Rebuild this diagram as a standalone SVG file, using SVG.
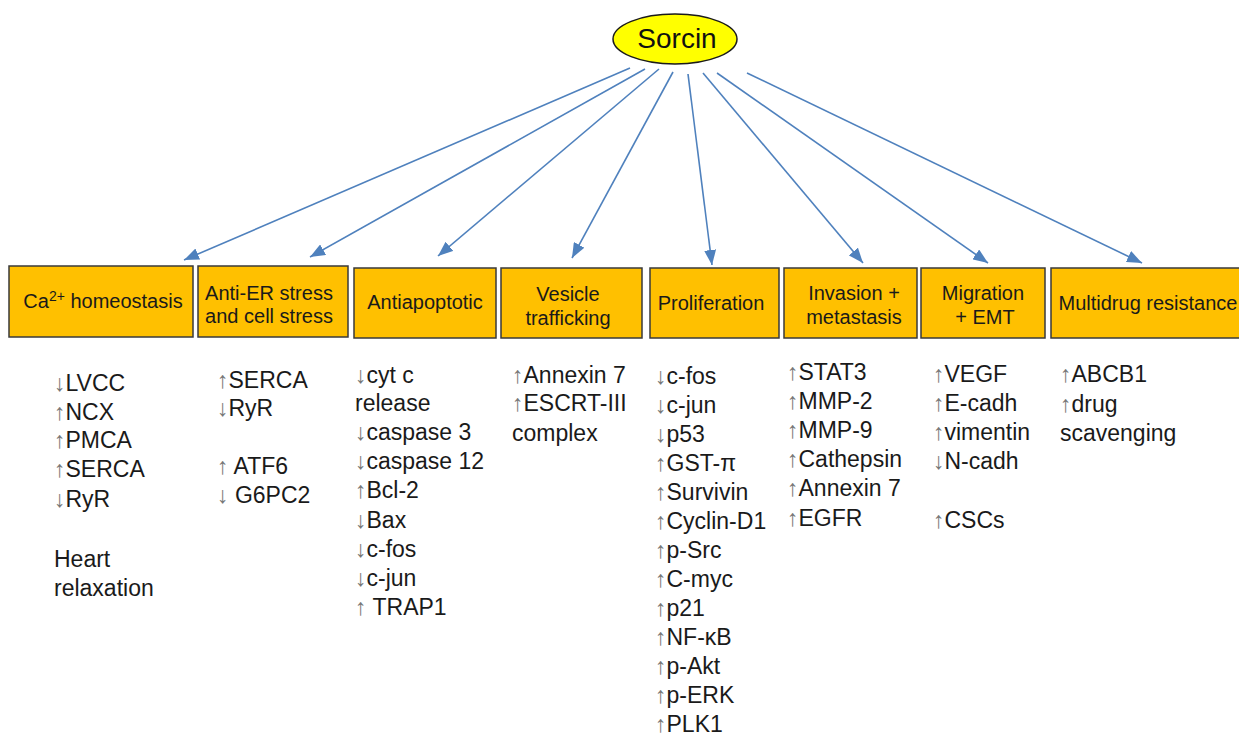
<svg xmlns="http://www.w3.org/2000/svg" width="1239" height="740" viewBox="0 0 1239 740">
<style>
.box{fill:#FFC000;stroke:#3a3a3a;stroke-width:1.5}
.bt{font-family:"Liberation Sans",Arial,sans-serif;font-size:20px;fill:#1a1a1a;text-anchor:middle}
.ct{font-family:"Liberation Sans",Arial,sans-serif;font-size:23px;fill:#1a1a1a}
.ar{fill:#777777}
.con{stroke:#4F81BD;stroke-width:1.6;fill:none;marker-end:url(#ah)}
</style>
<defs>
<marker id="ah" markerUnits="userSpaceOnUse" markerWidth="16" markerHeight="12" refX="15" refY="6" orient="auto">
<path d="M0,0 L15,6 L0,12 z" fill="#4F81BD"/>
</marker>
</defs>
<rect width="1239" height="740" fill="#ffffff"/>
<g id="connectors">
<line class="con" x1="630" y1="68" x2="184" y2="260"/>
<line class="con" x1="645" y1="69" x2="310" y2="257"/>
<line class="con" x1="659" y1="69" x2="438" y2="256"/>
<line class="con" x1="673" y1="72" x2="572" y2="258"/>
<line class="con" x1="688" y1="74" x2="712" y2="265"/>
<line class="con" x1="703" y1="73" x2="863" y2="263"/>
<line class="con" x1="717" y1="73" x2="988" y2="263"/>
<line class="con" x1="747" y1="73" x2="1142" y2="263"/>
</g>
<g id="sorcin">
<ellipse cx="675" cy="39" rx="62" ry="25" fill="#FFFF00" stroke="#1a1a1a" stroke-width="1.5"/>
<text x="677" y="48" font-family="Liberation Sans,Arial,sans-serif" font-size="28" fill="#111" text-anchor="middle">Sorcin</text>
</g>
<g id="box-ca">
<rect class="box" x="9" y="266" width="184" height="71"/>
<text class="bt" x="103" y="308">Ca<tspan font-size="14" dy="-7">2+</tspan><tspan dy="7"> homeostasis</tspan></text>
</g>
<g id="box-er">
<rect class="box" x="198" y="266" width="150" height="71"/>
<text class="bt" x="269" y="300">Anti-ER stress</text>
<text class="bt" x="269" y="323">and cell stress</text>
</g>
<g id="box-apo">
<rect class="box" x="354" y="268" width="142" height="70"/>
<text class="bt" x="425" y="309">Antiapoptotic</text>
</g>
<g id="box-ves">
<rect class="box" x="501" y="268" width="141" height="70"/>
<text class="bt" x="568" y="301">Vesicle</text>
<text class="bt" x="568" y="325">trafficking</text>
</g>
<g id="box-pro">
<rect class="box" x="650" y="268" width="129" height="70"/>
<text class="bt" x="711" y="310">Proliferation</text>
</g>
<g id="box-inv">
<rect class="box" x="784" y="268" width="133" height="70"/>
<text class="bt" x="854" y="300">Invasion  +</text>
<text class="bt" x="854" y="324">metastasis</text>
</g>
<g id="box-mig">
<rect class="box" x="921" y="268" width="124" height="70"/>
<text class="bt" x="983" y="300">Migration</text>
<text class="bt" x="985" y="324">+ EMT</text>
</g>
<g id="box-mdr">
<rect class="box" x="1051" y="268" width="195" height="70"/>
<text class="bt" x="1148" y="310">Multidrug resistance</text>
</g>
<g id="col-ca">
<text class="ct" x="54" y="391"><tspan class="ar">↓</tspan>LVCC</text>
<text class="ct" x="54" y="420"><tspan class="ar">↑</tspan>NCX</text>
<text class="ct" x="54" y="448"><tspan class="ar">↑</tspan>PMCA</text>
<text class="ct" x="54" y="477"><tspan class="ar">↑</tspan>SERCA</text>
<text class="ct" x="54" y="507"><tspan class="ar">↓</tspan>RyR</text>
<text class="ct" x="54" y="567">Heart</text>
<text class="ct" x="54" y="596">relaxation</text>
</g>
<g id="col-er">
<text class="ct" x="217" y="388"><tspan class="ar">↑</tspan>SERCA</text>
<text class="ct" x="217" y="416"><tspan class="ar">↓</tspan>RyR</text>
<text class="ct" x="217" y="474"><tspan class="ar">↑</tspan> ATF6</text>
<text class="ct" x="217" y="503"><tspan class="ar">↓</tspan> G6PC2</text>
</g>
<g id="col-apo">
<text class="ct" x="355" y="383"><tspan class="ar">↓</tspan>cyt c</text>
<text class="ct" x="355" y="411">release</text>
<text class="ct" x="355" y="440"><tspan class="ar">↓</tspan>caspase 3</text>
<text class="ct" x="355" y="469"><tspan class="ar">↓</tspan>caspase 12</text>
<text class="ct" x="355" y="498"><tspan class="ar">↑</tspan>Bcl-2</text>
<text class="ct" x="355" y="528"><tspan class="ar">↓</tspan>Bax</text>
<text class="ct" x="355" y="557"><tspan class="ar">↓</tspan>c-fos</text>
<text class="ct" x="355" y="586"><tspan class="ar">↓</tspan>c-jun</text>
<text class="ct" x="355" y="615"><tspan class="ar">↑</tspan> TRAP1</text>
</g>
<g id="col-ves">
<text class="ct" x="512" y="383"><tspan class="ar">↑</tspan>Annexin 7</text>
<text class="ct" x="512" y="411"><tspan class="ar">↑</tspan>ESCRT-III</text>
<text class="ct" x="512" y="441">complex</text>
</g>
<g id="col-pro">
<text class="ct" x="655" y="384"><tspan class="ar">↓</tspan>c-fos</text>
<text class="ct" x="655" y="413"><tspan class="ar">↓</tspan>c-jun</text>
<text class="ct" x="655" y="442"><tspan class="ar">↓</tspan>p53</text>
<text class="ct" x="655" y="471"><tspan class="ar">↑</tspan>GST-π</text>
<text class="ct" x="655" y="500"><tspan class="ar">↑</tspan>Survivin</text>
<text class="ct" x="655" y="529"><tspan class="ar">↑</tspan>Cyclin-D1</text>
<text class="ct" x="655" y="558"><tspan class="ar">↑</tspan>p-Src</text>
<text class="ct" x="655" y="587"><tspan class="ar">↑</tspan>C-myc</text>
<text class="ct" x="655" y="616"><tspan class="ar">↑</tspan>p21</text>
<text class="ct" x="655" y="645"><tspan class="ar">↑</tspan>NF-κB</text>
<text class="ct" x="655" y="674"><tspan class="ar">↑</tspan>p-Akt</text>
<text class="ct" x="655" y="703"><tspan class="ar">↑</tspan>p-ERK</text>
<text class="ct" x="655" y="732"><tspan class="ar">↑</tspan>PLK1</text>
</g>
<g id="col-inv">
<text class="ct" x="787" y="380"><tspan class="ar">↑</tspan>STAT3</text>
<text class="ct" x="787" y="409"><tspan class="ar">↑</tspan>MMP-2</text>
<text class="ct" x="787" y="438"><tspan class="ar">↑</tspan>MMP-9</text>
<text class="ct" x="787" y="467"><tspan class="ar">↑</tspan>Cathepsin</text>
<text class="ct" x="787" y="496"><tspan class="ar">↑</tspan>Annexin 7</text>
<text class="ct" x="787" y="526"><tspan class="ar">↑</tspan>EGFR</text>
</g>
<g id="col-mig">
<text class="ct" x="933" y="382"><tspan class="ar">↑</tspan>VEGF</text>
<text class="ct" x="933" y="411"><tspan class="ar">↑</tspan>E-cadh</text>
<text class="ct" x="933" y="440"><tspan class="ar">↑</tspan>vimentin</text>
<text class="ct" x="933" y="469"><tspan class="ar">↓</tspan>N-cadh</text>
<text class="ct" x="933" y="528"><tspan class="ar">↑</tspan>CSCs</text>
</g>
<g id="col-mdr">
<text class="ct" x="1060" y="382"><tspan class="ar">↑</tspan>ABCB1</text>
<text class="ct" x="1060" y="412"><tspan class="ar">↑</tspan>drug</text>
<text class="ct" x="1060" y="441">scavenging</text>
</g>
</svg>
